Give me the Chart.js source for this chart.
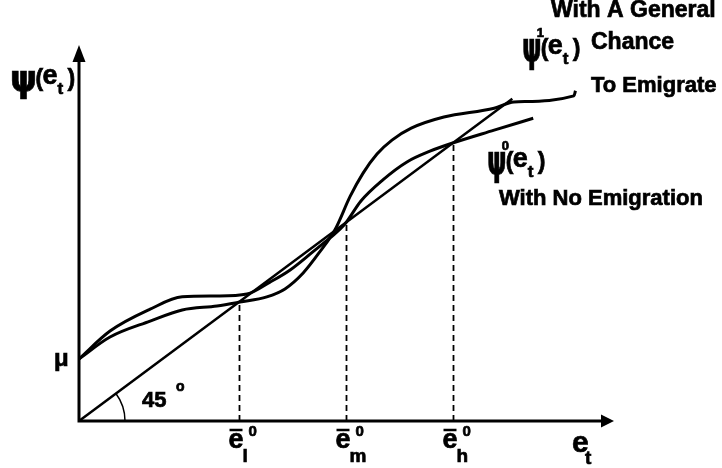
<!DOCTYPE html>
<html>
<head>
<meta charset="utf-8">
<script src="https://cdn.jsdelivr.net/npm/chart.js@4.4.1/dist/chart.umd.min.js"></script>
<style>
  html, body { margin: 0; padding: 0; background: #fff; }
  #chart { display: block; }
</style>
</head>
<body>
<canvas id="chart" width="722" height="468"></canvas>
<script>
// e_t along the horizontal axis, psi(e_t) up the vertical one
const psi0X = [0, 0.58, 1.33, 1.93, 2.58, 3.14, 3.57, 3.94, 4.37, 4.69, 4.97, 5.27, 5.68, 6.13, 6.56, 6.97, 7.76, 8.49];
const psi0Y = [1.56, 2.26, 2.81, 3.12, 3.14, 3.19, 3.49, 3.79, 4.25, 4.60, 4.95, 5.53, 6.06, 6.51, 6.78, 6.98, 7.31, 7.61];

const psi1X = [0, 0.58, 1.33, 1.93, 2.58, 3.01, 3.51, 3.85, 4.19, 4.50, 4.79, 5.07, 5.31, 5.57, 5.85, 6.21, 6.82, 7.76, 8.13, 9.25, 9.28];
const psi1Y = [1.56, 2.11, 2.51, 2.79, 2.89, 2.99, 3.12, 3.32, 3.72, 4.25, 4.82, 5.65, 6.23, 6.71, 7.06, 7.36, 7.64, 7.86, 8.02, 8.17, 8.30];

const diagX = [0, 8.1];          // 45 degree line, psi = e
const eBarX = [3, 5, 7];         // steady states of psi0
const eBarSubs = ['l', 'm', 'h'];
const muValue = 1.56;

function toPoints(xs, ys) {
    return xs.map((x, i) => ({ x: x, y: ys[i] }));
}

const FONT = '"Liberation Sans", Arial, sans-serif';

// bold text, a thin stroke on top to get the heavy scanned look
function txt(ctx, s, x, y, size, sx, family) {
    ctx.save();
    ctx.font = 'bold ' + size + 'px ' + (family || FONT);
    ctx.translate(x, y);
    ctx.scale(sx || 1, 1);
    ctx.lineWidth = 0.7;
    ctx.fillText(s, 0, 0);
    ctx.strokeText(s, 0, 0);
    ctx.restore();
}

// psi(e_t) style label: psi, optional superscript, then (e_t)
function psiLabel(ctx, x, y, sup, psiSize, sx) {
    txt(ctx, 'ψ', x, y, psiSize, sx, '"DejaVu Sans", sans-serif');
    const w = psiSize * 0.72 * sx;
    if (sup) txt(ctx, sup, x + w - 3, y - 24, 13);
    txt(ctx, '(', x + w + 1, y - 5, 23);
    txt(ctx, 'e', x + w + 8, y - 7, 27);
    txt(ctx, 't', x + w + 23, y + 3, 17);
    txt(ctx, ')', x + w + 33, y - 5, 23);
}

const decorations = {
    id: 'decorations',
    afterDatasetsDraw(chart) {
        const ctx = chart.ctx;
        const xs = chart.scales.x;
        const ys = chart.scales.y;
        const x0 = xs.getPixelForValue(0);
        const y0 = ys.getPixelForValue(0);
        const top = chart.chartArea.top;
        const right = chart.chartArea.right;

        ctx.save();
        ctx.fillStyle = '#000';
        ctx.strokeStyle = '#000';

        // axes with arrow heads
        ctx.lineWidth = 3;
        ctx.beginPath();
        ctx.moveTo(x0, y0 + 1.5);
        ctx.lineTo(x0, top + 12);
        ctx.moveTo(x0 - 1.5, y0);
        ctx.lineTo(right - 10, y0);
        ctx.stroke();
        ctx.beginPath();
        ctx.moveTo(x0, top);
        ctx.lineTo(x0 - 6.5, top + 17);
        ctx.lineTo(x0 + 6.5, top + 17);
        ctx.closePath();
        ctx.fill();
        ctx.beginPath();
        ctx.moveTo(right, y0);
        ctx.lineTo(right - 13, y0 - 6.5);
        ctx.lineTo(right - 13, y0 + 6.5);
        ctx.closePath();
        ctx.fill();

        // 45 degree arc
        const ang = Math.atan2(y0 - ys.getPixelForValue(1), xs.getPixelForValue(1) - x0);
        ctx.lineWidth = 1.5;
        ctx.beginPath();
        ctx.arc(x0, y0, 46, -ang, 0);
        ctx.stroke();
        txt(ctx, '45', 142, 407, 22);
        txt(ctx, 'o', 176, 391, 14);

        // mu on the vertical axis
        const yMu = ys.getPixelForValue(muValue);
        txt(ctx, 'μ', 54, yMu + 7, 24);

        // axis titles
        psiLabel(ctx, 10, 91, '', 38, 0.9);
        txt(ctx, 'e', 572, 452, 30);
        txt(ctx, 't', 585, 464, 19);

        // steady state labels under the axis
        eBarX.forEach((v, i) => {
            const px = xs.getPixelForValue(v);
            ctx.lineWidth = 2.5;
            ctx.beginPath();
            ctx.moveTo(px - 10, 430);
            ctx.lineTo(px + 3, 430);
            ctx.stroke();
            txt(ctx, 'e', px - 11, 448, 27);
            txt(ctx, eBarSubs[i], px + 3, 462, 19);
            txt(ctx, '0', px + 9, 436, 15);
        });

        // curve labels
        psiLabel(ctx, 522, 61, '1', 40, 0.62);
        psiLabel(ctx, 487, 174, '0', 40, 0.62);

        txt(ctx, 'With A General', 551, 17, 23);
        txt(ctx, 'Chance', 591, 49, 23);
        txt(ctx, 'To Emigrate', 591, 92, 22);
        txt(ctx, 'With No Emigration', 499, 205, 22);

        ctx.restore();
    }
};

const curveStyle = {
    showLine: true,
    borderColor: '#000',
    borderWidth: 3,
    pointRadius: 0,
    fill: false,
    clip: false,
    cubicInterpolationMode: 'monotone'
};

const datasets = [
    Object.assign({ label: 'psi0', data: toPoints(psi0X, psi0Y) }, curveStyle),
    Object.assign({ label: 'psi1', data: toPoints(psi1X, psi1Y) }, curveStyle),
    Object.assign({}, curveStyle, { label: '45', data: toPoints(diagX, diagX), borderWidth: 2.5, cubicInterpolationMode: 'default', tension: 0 })
];

eBarX.forEach(v => {
    datasets.push({
        label: 'bar ' + v,
        data: [{ x: v, y: 0 }, { x: v, y: v }],
        showLine: true,
        borderColor: '#000',
        borderWidth: 1.8,
        borderDash: [6, 4],
        pointRadius: 0,
        clip: false
    });
});

new Chart(document.getElementById('chart').getContext('2d'), {
    type: 'scatter',
    data: { datasets: datasets },
    options: {
        responsive: false,
        animation: false,
        devicePixelRatio: 1,
        layout: { padding: { left: 79, right: 108, top: 45, bottom: 47 } },
        scales: {
            x: { type: 'linear', min: 0, max: 10, display: false },
            y: { type: 'linear', min: 0, max: 9.45, display: false }
        },
        plugins: {
            legend: { display: false },
            tooltip: { enabled: false }
        }
    },
    plugins: [decorations]
});
</script>
</body>
</html>
